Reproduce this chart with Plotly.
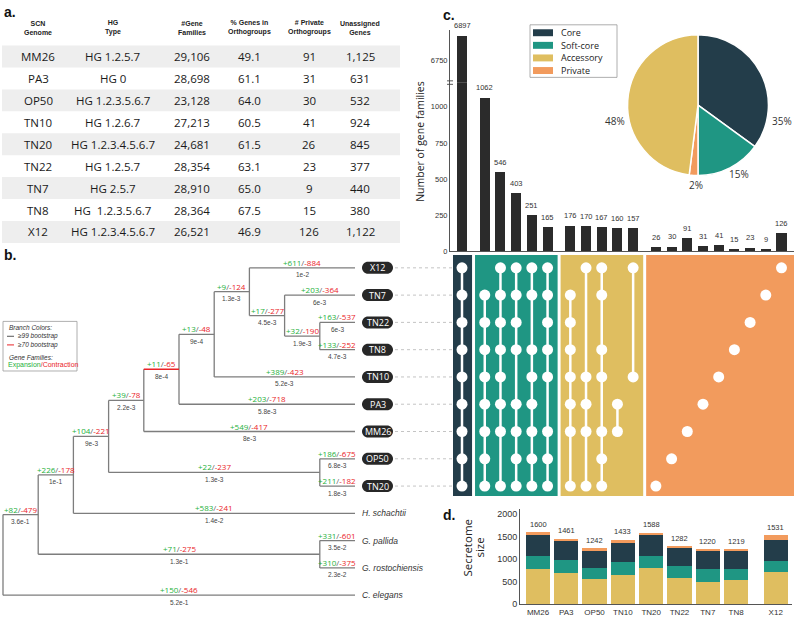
import plotly.graph_objects as go

W, H = 794, 623
def fx(p): return p / W
def fy(p): return 1 - p / H

OPEN = "Open Sans"
ARIAL = "Liberation Sans, Arial"
GREEN = "#25b13a"
RED = "#ea2428"
DARK = "#222222"

# ---------------- data ----------------
# table (panel a)
table_headers = ["SCN<br>Genome", "HG<br>Type", "#Gene<br>Families", "% Genes in<br>Orthogroups",
                 "# Private<br>Orthogroups", "Unassigned<br>Genes"]
table_genomes = ["MM26", "PA3", "OP50", "TN10", "TN20", "TN22", "TN7", "TN8", "X12"]
table_hg = ["HG 1.2.5.7", "HG 0", "HG 1.2.3.5.6.7", "HG 1.2.6.7", "HG 1.2.3.4.5.6.7",
            "HG 1.2.5.7", "HG 2.5.7", "HG  1.2.3.5.6.7", "HG 1.2.3.4.5.6.7"]
table_families = ["29,106", "28,698", "23,128", "27,213", "24,681", "28,354", "28,910", "28,364", "26,521"]
table_pct = ["49.1", "61.1", "64.0", "60.5", "61.5", "63.1", "65.0", "67.5", "46.9"]
table_private = ["91", "31", "30", "41", "26", "23", "9", "15", "126"]
table_unassigned = ["1,125", "631", "532", "924", "845", "377", "440", "380", "1,122"]

# tree (panel b)
edge_parent = ["root", "A", "B", "C", "D", "F", "H", "I", "I", "J", "J", "K", "K", "H", "F", "D",
               "C", "E", "E", "B", "A", "G", "G", "root"]
edge_child = ["A", "B", "C", "D", "F", "H", "I", "X12", "J", "TN7", "K", "TN22", "TN8", "TN10", "PA3",
              "MM26", "E", "OP50", "TN20", "H. schachtii", "G", "G. pallida", "G. rostochiensis", "C. elegans"]
edge_gain = [82, 226, 104, 39, 11, 13, 9, 611, 17, 203, 32, 163, 133, 389, 203, 549, 22, 186, 211, 583,
             71, 331, 310, 150]
edge_loss = [479, 178, 221, 78, 65, 48, 124, 884, 277, 364, 190, 537, 252, 423, 718, 417, 237, 675, 182,
             241, 275, 601, 375, 546]
edge_rate = ["3.6e-1", "1e-1", "9e-3", "2.2e-3", "8e-4", "9e-4", "1.3e-3", "1e-2", "4.5e-3", "6e-3",
             "1.9e-3", "6e-3", "4.7e-3", "5.2e-3", "5.8e-3", "8e-3", "1.3e-3", "6.8e-3", "1.8e-3",
             "1.4e-2", "1.3e-1", "3.5e-2", "2.3e-2", "5.2e-1"]
edge_boot99 = [True, True, True, True, False, True, True, True, True, True, True, True, True, True,
               True, True, True, True, True, True, True, True, True, True]
scn_tips = ["X12", "TN7", "TN22", "TN8", "TN10", "PA3", "MM26", "OP50", "TN20"]

# upset (panel c)
inter_members = [
    ["X12", "TN7", "TN22", "TN8", "TN10", "PA3", "MM26", "OP50", "TN20"],
    ["TN7", "TN22", "TN8", "TN10", "PA3", "MM26", "OP50", "TN20"],
    ["X12", "TN7", "TN22", "TN8", "TN10", "PA3", "MM26", "TN20"],
    ["X12", "TN7", "TN22", "TN8", "PA3", "MM26", "OP50", "TN20"],
    ["X12", "TN7", "TN8", "TN10", "PA3", "MM26", "OP50", "TN20"],
    ["X12", "TN7", "TN22", "TN8", "TN10", "MM26", "OP50", "TN20"],
    ["TN7", "TN22", "TN8", "TN10", "PA3", "MM26", "TN20"],
    ["X12", "TN10", "PA3", "MM26", "TN20"],
    ["X12", "TN7", "TN8", "TN10", "MM26", "OP50", "TN20"],
    ["PA3", "MM26"],
    ["X12", "TN10"],
    ["TN20"], ["OP50"], ["MM26"], ["PA3"], ["TN10"], ["TN8"], ["TN22"], ["TN7"], ["X12"],
]
inter_counts = [6897, 1062, 546, 403, 251, 165, 176, 170, 167, 160, 157, 26, 30, 91, 31, 41, 15, 23, 9, 126]
inter_group = ["Core"] + ["Soft-core"] * 5 + ["Accessory"] * 5 + ["Private"] * 9
group_names = ["Core", "Soft-core", "Accessory", "Private"]
group_colors = ["#233d4a", "#1f9683", "#dfbe60", "#f29b5d"]

pie_labels = ["Core", "Soft-core", "Private", "Accessory"]
pie_values = [35, 15, 2, 48]

# secretome (panel d)
sec_genomes = ["MM26", "PA3", "OP50", "TN10", "TN20", "TN22", "TN7", "TN8", "X12"]
sec_accessory = [775, 688, 555, 648, 805, 582, 502, 533, 708]
sec_softcore = [294, 287, 248, 288, 276, 262, 290, 255, 250]
sec_core = [480, 444, 401, 425, 457, 415, 392, 409, 472]
sec_private = [51, 42, 38, 72, 50, 23, 36, 22, 101]

gcol = dict(zip(group_names, group_colors))

fig = go.Figure()
shapes = []
ann = []

def text(xp, yp, t, size, color=DARK, family=OPEN, xanchor="center", angle=0, **kw):
    ann.append(dict(x=fx(xp), y=fy(yp), xref="paper", yref="paper", text=t, showarrow=False,
                    font=dict(size=size, color=color, family=family), xanchor=xanchor,
                    yanchor="middle", textangle=angle, **kw))

# ---------------- panel a: table ----------------
col_cx = [38, 113, 192, 250, 309, 360]
ROW0, ROWH, HEADY = 57, 22.1, 28
for i in range(len(table_genomes)):
    yc = ROW0 + i * ROWH
    if i % 2 == 0:
        shapes.append(dict(type="rect", xref="paper", yref="paper", x0=fx(2), x1=fx(400),
                           y0=fy(yc + ROWH / 2), y1=fy(yc - ROWH / 2), fillcolor="#eeeeee",
                           line=dict(width=0), layer="below"))
cols = [table_genomes, table_hg, table_families, table_pct, table_private, table_unassigned]
for j, h in enumerate(table_headers):
    text(col_cx[j], HEADY, "<b>" + h + "</b>", 7, "#222", ARIAL)
    for i, v in enumerate(cols[j]):
        text(col_cx[j], ROW0 + i * ROWH, v.replace("  ", "&nbsp; "), 11.5, "#1a1a1a", OPEN)

# ---------------- panel b: tree ----------------
children, einfo = {}, {}
for p, c, g, l, r, s in zip(edge_parent, edge_child, edge_gain, edge_loss, edge_rate, edge_boot99):
    children.setdefault(p, []).append(c)
    einfo[c] = (p, g, l, r, s)
leaf_order = []
def dfs(n):
    if n not in children:
        leaf_order.append(n)
        return
    for c in children[n]:
        dfs(c)
dfs("root")
height = {}
def geth(n):
    height[n] = 0 if n not in children else 1 + max(geth(c) for c in children[n])
    return height[n]
geth("root")
X0, STEP = 3, 35.2
nx = {n: X0 + (height["root"] - height[n]) * STEP for n in height}
ny = {}
def gety(n):
    if n not in children:
        ny[n] = leaf_order.index(n)
    else:
        ys = [gety(c) for c in children[n]]
        ny[n] = (ys[0] + ys[-1]) / 2
    return ny[n]
gety("root")

gx, gy, rx, ry = [], [], [], []
for n, ch in children.items():
    gx += [nx[n], nx[n], None]
    gy += [ny[ch[0]], ny[ch[-1]], None]
for c, (p, g, l, r, s) in einfo.items():
    if s:
        gx += [nx[p], nx[c], None]; gy += [ny[c], ny[c], None]
    else:
        rx += [nx[p], nx[c], None]; ry += [ny[c], ny[c], None]
fig.add_trace(go.Scatter(x=gx, y=gy, mode="lines", line=dict(color="#7d7d7d", width=1.3),
                         xaxis="x", yaxis="y", hoverinfo="skip"))
fig.add_trace(go.Scatter(x=rx, y=ry, mode="lines", line=dict(color=RED, width=1.3),
                         xaxis="x", yaxis="y", hoverinfo="skip"))
for c, (p, g, l, r, s) in einfo.items():
    xm = (nx[p] + nx[c]) / 2
    ann.append(dict(x=xm, y=ny[c], xref="x", yref="y", showarrow=False, yshift=5.5,
                    text=f"<span style='color:{GREEN}'>+{g}</span><span style='color:#666'>/</span>"
                         f"<span style='color:{RED}'>-{l}</span>",
                    font=dict(size=8, family=OPEN)))
    ann.append(dict(x=xm, y=ny[c], xref="x", yref="y", showarrow=False, yshift=-7,
                    text=r, font=dict(size=6.5, family=ARIAL, color="#444")))

# tip labels
PILL_X, HW, HH = 377.5, 15.5, 6
k = 0.5523 * HH
a = HW - HH
pill = (f"M {-a},{-HH} L {a},{-HH} C {a+k},{-HH} {HW},{-k} {HW},0 C {HW},{k} {a+k},{HH} {a},{HH} "
        f"L {-a},{HH} C {-a-k},{HH} {-HW},{k} {-HW},0 C {-HW},{-k} {-a-k},{-HH} {-a},{-HH} Z")
dx, dy = [], []
for n in leaf_order:
    if n in scn_tips:
        shapes.append(dict(type="path", xref="x", yref="y", xsizemode="pixel", ysizemode="pixel",
                           xanchor=PILL_X, yanchor=ny[n], path=pill, fillcolor="#272727",
                           line=dict(width=0)))
        ann.append(dict(x=PILL_X, y=ny[n], xref="x", yref="y", showarrow=False, text=n,
                        font=dict(size=9, color="white", family=OPEN)))
        dx += [PILL_X + HW + 2, 453, None]; dy += [ny[n], ny[n], None]
    else:
        ann.append(dict(x=nx[n] + 5, y=ny[n], xref="x", yref="y", showarrow=False, xanchor="left",
                        text="<i>" + n + "</i>", font=dict(size=8.5, color="#333", family=ARIAL)))
fig.add_trace(go.Scatter(x=dx, y=dy, mode="lines", line=dict(color="#b5b5b5", width=0.8, dash="dot"),
                         xaxis="x", yaxis="y", hoverinfo="skip"))

# tree legend
shapes.append(dict(type="rect", xref="paper", yref="paper", x0=fx(3), x1=fx(77), y0=fy(374), y1=fy(324),
                   line=dict(color="#9a9a9a", width=0.8), fillcolor="white"))
for yy, col in [(339, "#555"), (347.7, RED)]:
    shapes.append(dict(type="line", xref="paper", yref="paper", x0=fx(7), x1=fx(14), y0=fy(yy), y1=fy(yy),
                       line=dict(color=col, width=1)))
text(7, 330, "<i>Branch Colors:</i>", 6.5, "#333", ARIAL, "left")
text(16, 339, "<i>≥99 bootstrap</i>", 6.5, "#333", ARIAL, "left")
text(16, 347.7, "<i>≥70 bootstrap</i>", 6.5, "#333", ARIAL, "left")
text(7, 360, "<i>Gene Families:</i>", 6.5, "#333", ARIAL, "left")
text(6, 368, f"<span style='color:{GREEN}'>Expansion</span><span style='color:{RED}'>/Contraction</span>",
     7, DARK, ARIAL, "left")

# ---------------- panel c: upset ----------------
PX0, COLW = 462, 15.7
gidx = [group_names.index(g) for g in inter_group]
pos = [i + 0.45 * g for i, g in enumerate(gidx)]
row_of = {n: ny[n] for n in scn_tips}

for g, name in enumerate(group_names):
    ps = [p for p, gi in zip(pos, gidx) if gi == g]
    x1 = ps[-1] + 0.64 if g < len(group_names) - 1 else (W - PX0) / COLW + 0.1
    shapes.append(dict(type="rect", xref="x2", yref="y", x0=ps[0] - 0.62, x1=x1,
                       y0=-0.47, y1=8.36, fillcolor=group_colors[g], line=dict(width=0), layer="below"))
lx, ly, mx, my = [], [], [], []
for p, mem in zip(pos, inter_members):
    ys = sorted(row_of[m] for m in mem)
    if len(ys) > 1:
        lx += [p, p, None]; ly += [ys[0], ys[-1], None]
    mx += [p] * len(ys); my += ys
fig.add_trace(go.Scatter(x=lx, y=ly, mode="lines", line=dict(color="white", width=2.5),
                         xaxis="x2", yaxis="y", hoverinfo="skip"))
fig.add_trace(go.Scatter(x=mx, y=my, mode="markers", marker=dict(color="white", size=11, line=dict(width=0)),
                         xaxis="x2", yaxis="y", hoverinfo="skip"))

# bars (broken axis)
LOW_B, BRK, TOP = 253.3, 83, 30
low_scale = 0.1456          # px per family (lower)
up_scale = 25 / 147         # px per family (upper)
low_rng = [0, (LOW_B - BRK) / low_scale]
up_rng = [6750 - (BRK - 60.7) / up_scale, 6750 + (60.7 - TOP) / up_scale]
fig.add_trace(go.Bar(x=pos, y=inter_counts, width=0.64, marker=dict(color="#2b2b2b", line=dict(width=0)),
                     xaxis="x3", yaxis="y3", hoverinfo="skip"))
big = [i for i, v in enumerate(inter_counts) if v > low_rng[1]]
fig.add_trace(go.Bar(x=[pos[i] for i in big], y=[inter_counts[i] for i in big], width=0.64,
                     marker=dict(color="#2b2b2b", line=dict(width=0)), xaxis="x3", yaxis="y4",
                     hoverinfo="skip"))
for i, (p, v) in enumerate(zip(pos, inter_counts)):
    ann.append(dict(x=p, y=v, xref="x3", yref="y4" if i in big else "y3", showarrow=False,
                    yshift=10, text=str(v), font=dict(size=7.5, family=ARIAL, color="#333")))
for yy in (81.5, 85):
    shapes.append(dict(type="line", xref="paper", yref="paper", x0=fx(447), x1=fx(453), y0=fy(yy), y1=fy(yy),
                       line=dict(color="#444", width=0.9)))
text(420, 143, "Number of gene families", 10.5, DARK, OPEN, angle=-90)

# pie
fig.add_trace(go.Pie(labels=pie_labels, values=pie_values, sort=False, direction="clockwise",
                     rotation=0, textinfo="none", hoverinfo="skip",
                     marker=dict(colors=[gcol[l] for l in pie_labels], line=dict(color="white", width=1.5)),
                     domain=dict(x=[fx(627), fx(769)], y=[fy(177), fy(35)])))
pie_label_px = {"Core": (782, 122), "Soft-core": (739, 175), "Private": (696, 186), "Accessory": (615, 122)}
for l, v in zip(pie_labels, pie_values):
    px_, py_ = pie_label_px[l]
    text(px_, py_, f"{v}%", 10, "#333", OPEN)

# pie legend
shapes.append(dict(type="rect", xref="paper", yref="paper", x0=fx(530), x1=fx(617), y0=fy(78), y1=fy(25),
                   line=dict(color="#999", width=0.8), fillcolor="white"))
for i, (nm, col) in enumerate(zip(group_names, group_colors)):
    yc = 33 + i * 12.7
    shapes.append(dict(type="rect", xref="paper", yref="paper", x0=fx(533), x1=fx(553), y0=fy(yc + 3.5),
                       y1=fy(yc - 3.5), fillcolor=col, line=dict(width=0)))
    text(559, yc, nm, 9, DARK, OPEN, "left")

# ---------------- panel d: secretome ----------------
D0, DW = 538, 28.3
dpos = [i + (0.4 if i == len(sec_genomes) - 1 else 0) for i in range(len(sec_genomes))]
for vals, g in [(sec_accessory, "Accessory"), (sec_softcore, "Soft-core"), (sec_core, "Core"),
                (sec_private, "Private")]:
    fig.add_trace(go.Bar(x=dpos, y=vals, width=0.86, marker=dict(color=gcol[g], line=dict(width=0)),
                         xaxis="x5", yaxis="y5", hoverinfo="skip"))
totals = [a_ + b_ + c_ + d_ for a_, b_, c_, d_ in zip(sec_accessory, sec_softcore, sec_core, sec_private)]
for p, t in zip(dpos, totals):
    ann.append(dict(x=p, y=t, xref="x5", yref="y5", showarrow=False, yshift=8, text=str(t),
                    font=dict(size=7.5, family=ARIAL, color="#333")))
text(468, 552, "Secretome", 11.5, DARK, OPEN, angle=-90)
text(480, 552, "size", 11.5, DARK, OPEN, angle=-90)

# panel letters
for lt, xp, yp in [("a.", 2, 12), ("b.", 2, 257), ("c.", 441, 15), ("d.", 441, 519)]:
    text(xp, yp, "<b>" + lt + "</b>", 14, "#111", ARIAL, "left")

ax_off = dict(visible=False, showgrid=False, zeroline=False, fixedrange=True)
tickf = dict(size=7.5, family=ARIAL, color="#333")
fig.update_layout(
    width=W, height=H, margin=dict(l=0, r=0, t=0, b=0), paper_bgcolor="white", plot_bgcolor="white",
    showlegend=False, barmode="stack", bargap=0,
    xaxis=dict(domain=[0, fx(453)], range=[0, 453], anchor="y", **ax_off),
    yaxis=dict(domain=[0, fy(250)], range=[(623 - 270) / 27.5, (250 - 270) / 27.5], anchor="x", **ax_off),
    xaxis2=dict(domain=[fx(453), 1], range=[(453 - PX0) / COLW, (W - PX0) / COLW], anchor="y", **ax_off),
    xaxis3=dict(domain=[fx(450), 1], range=[(450 - PX0) / COLW, (W - PX0) / COLW], anchor="y3",
                showline=True, linecolor="#555", linewidth=1, showticklabels=False, ticks="",
                showgrid=False, zeroline=False),
    yaxis3=dict(domain=[fy(LOW_B), fy(BRK)], range=low_rng, anchor="x3", showline=True, linecolor="#555",
                linewidth=1, tickvals=[0, 250, 500, 750, 1000], ticks="", showgrid=False, zeroline=False,
                tickfont=tickf),
    yaxis4=dict(domain=[fy(BRK), fy(TOP)], range=up_rng, anchor="x3", showline=True, linecolor="#555",
                linewidth=1, tickvals=[6750], ticks="", showgrid=False, zeroline=False, tickfont=tickf),
    xaxis5=dict(domain=[fx(520), fx(792)], range=[(520 - D0) / DW, (792 - D0) / DW], anchor="y5",
                showline=True, linecolor="#555", linewidth=1, tickvals=dpos, ticktext=sec_genomes,
                ticks="", showgrid=False, zeroline=False, tickfont=dict(size=8, family=ARIAL, color="#333")),
    yaxis5=dict(domain=[fy(609), fy(513)], range=[0, 2000 * (609 - 513) / (609 - 518.3)], anchor="x5",
                showline=True, linecolor="#555", linewidth=1, tickvals=[0, 500, 1000, 1500, 2000], ticks="",
                showgrid=False, zeroline=False, tickfont=dict(size=9, family=ARIAL, color="#333")),
    shapes=shapes, annotations=ann,
)
fig.write_html("out.html")
